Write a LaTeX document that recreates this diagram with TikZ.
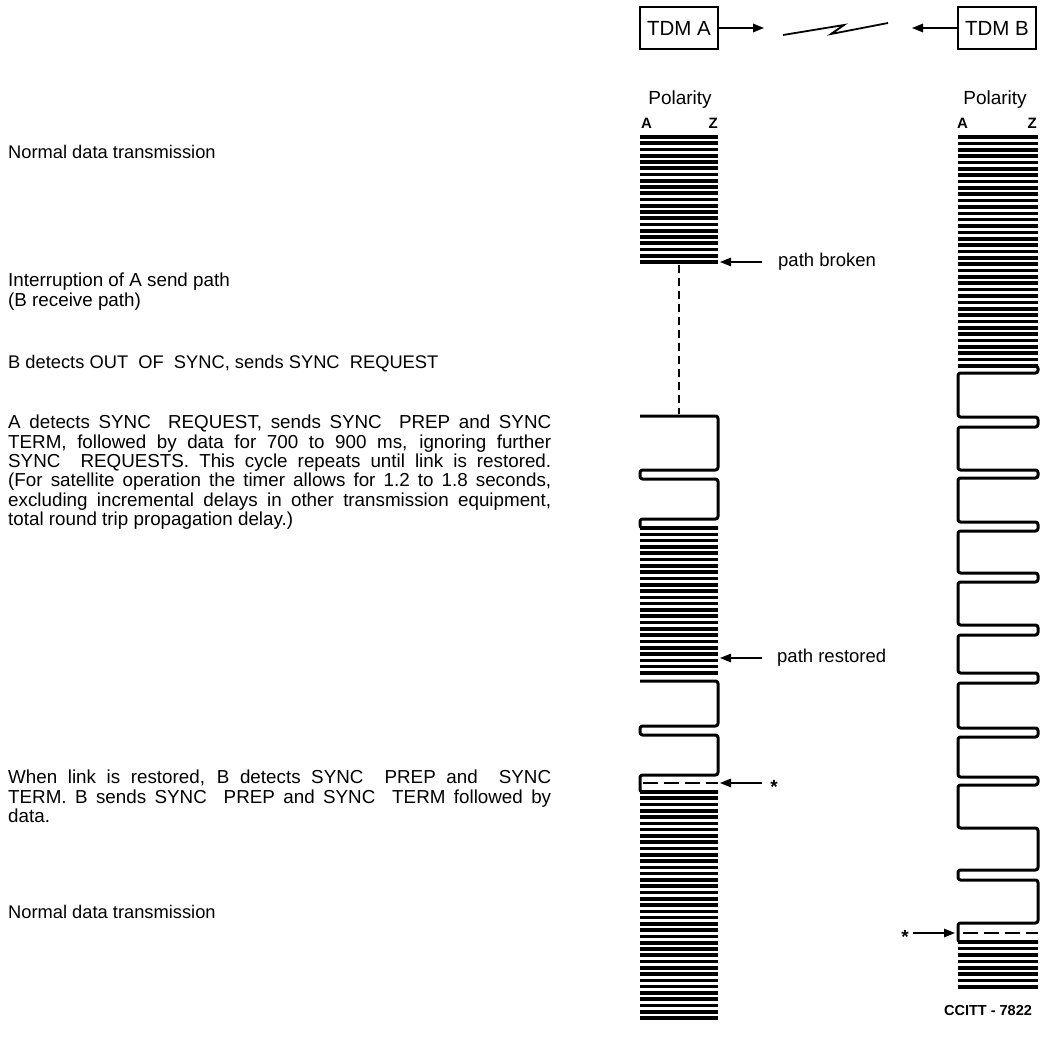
\documentclass[tikz,border=0pt]{standalone}
\usepackage{fontspec}
\setmainfont{Liberation Sans}
\usetikzlibrary{arrows.meta}

% one justified line of a given width
\newcommand\jline[1]{\makebox[543pt][s]{#1}}

\begin{document}
\begin{tikzpicture}[x=1pt,y=-1pt,
  txt/.style={anchor=west, inner sep=0pt, font=\fontsize{18.3}{19.3}\selectfont},
  para/.style={anchor=north west, inner sep=0pt, align=left, font=\fontsize{18.8}{19.3}\selectfont},
  lbl/.style={anchor=west, inner sep=0pt, font=\fontsize{18.5}{19}\selectfont},
  pol/.style={inner sep=0pt, font=\fontsize{19}{19}\selectfont},
  pole/.style={inner sep=0pt, font=\bfseries\fontsize{15}{15}\selectfont},
  tdm/.style={draw, line width=2.4pt, minimum width=78pt, minimum height=42pt, inner sep=0pt, font=\fontsize{20.5}{20.5}\selectfont},
  wave/.style={line width=3pt, rounded corners=2.5pt, line join=round},
  bits/.style={line width=3.6pt},
  gap/.style={line width=1.5pt, dash pattern=on 8pt off 5pt},
  sep/.style={line width=2.8pt, dash pattern=on 15pt off 6pt},
  arr/.style={line width=1.5pt, -{Triangle[length=11pt,width=8.5pt]}},
]
\useasboundingbox (0,0) rectangle (1044,1051);

% ---- terminals and link ----
\node[tdm] (tdmA) at (679,28) {TDM A};
\node[tdm] (tdmB) at (997,28) {TDM B};
\coordinate (aOut) at (764,28);
\coordinate (bOut) at (912,28);
\draw[arr] (tdmA.east) -- (aOut);
\draw[arr] (tdmB.west) -- (bOut);
\coordinate (z1) at (783,35);
\coordinate (z2) at (844,25);
\coordinate (z3) at (831,34);
\coordinate (z4) at (888,23);
\draw[line width=1.8pt, line join=miter] (z1) -- (z2) -- (z3) -- (z4);

% ---- column headings ----
\node[pol] (polA) at (680,100) {Polarity};
\node[pole, anchor=west] (pAa) at (641,123) {A};
\node[pole, anchor=east] (pAz) at (718,123) {Z};
\node[pol] (polB) at (995,100) {Polarity};
\node[pole, anchor=west] (pBa) at (957,123) {A};
\node[pole, anchor=east] (pBz) at (1037,123) {Z};

% ---- data bursts (fast alternation) ----
\foreach \x/\w/\y/\n/\p in {640/78/137/20/6.25, 958/80/137/36/6.36, 640/78/528/23/6.3, 640/78/792/36/6.28, 958/80/942/7/6.43}{
  \foreach \k in {0,...,\n}
    \draw[bits] (\x,{\y+\k*\p}) -- ({\x+\w},{\y+\k*\p});
}

% ---- TDM A line ----
\draw[gap] (679,265) -- (679,414);
\draw[wave] (640,416) -- (718,416) -- (718,470) -- (640,470) -- (640,479) -- (718,479)
  -- (718,519) -- (640,519) -- (640,528) -- (718,528);
\draw[wave] (640,681) -- (718,681) -- (718,726) -- (640,726) -- (640,735) -- (718,735)
  -- (718,775) -- (640,775) -- (640,792) -- (718,792);
\draw[sep] (643,783) -- (718,783);

% ---- TDM B line ----
\draw[wave] (958,366) -- (1038,366) -- (1038,373) -- (958,373)
  -- (958,417) -- (1038,417) -- (1038,427) -- (958,427)
  -- (958,470) -- (1038,470) -- (1038,478) -- (958,478)
  -- (958,522) -- (1038,522) -- (1038,531) -- (958,531)
  -- (958,573) -- (1038,573) -- (1038,582) -- (958,582)
  -- (958,625) -- (1038,625) -- (1038,635) -- (958,635)
  -- (958,673) -- (1038,673) -- (1038,683) -- (958,683)
  -- (958,728) -- (1038,728) -- (1038,737) -- (958,737)
  -- (958,777) -- (1038,777) -- (1038,785) -- (958,785)
  -- (958,828) -- (1038,828) -- (1038,870) -- (958,870)
  -- (958,880) -- (1038,880) -- (1038,923) -- (958,923)
  -- (958,942) -- (1038,942);
\draw[sep] (963,933) -- (1038,933);

% ---- event markers ----
\node[lbl] (brk) at (778,262) {path broken};
\coordinate (brkTip) at (720,262);
\draw[arr, shorten <=16pt] (brk.west) -- (brkTip);

\node[lbl] (rst) at (777,658) {path restored};
\coordinate (rstTip) at (720,658);
\draw[arr, shorten <=15pt] (rst.west) -- (rstTip);

\node[inner sep=0pt, font=\bfseries\fontsize{19}{19}\selectfont] (stA) at (774,787) {*};
\coordinate (stATip) at (720,783);
\draw[arr] (762,783) -- (stATip);

\node[inner sep=0pt, font=\bfseries\fontsize{19}{19}\selectfont] (stB) at (905,937) {*};
\coordinate (stBTip) at (955,933);
\draw[arr] (913,933) -- (stBTip);

% ---- narrative ----
\node[txt] (t1) at (8,152) {Normal data transmission};
\node[para] (t2) at (8,273) {Interruption of A send path\\(B receive path)};
\node[txt] (t3) at (8,364) {B detects OUT\ \ OF\ \ SYNC, sends SYNC\ \ REQUEST};
\node[para] (t4) at (8,415) {%
  \jline{A detects SYNC\ \ REQUEST, sends SYNC\ \ PREP and SYNC}\\
  \jline{TERM, followed by data for 700 to 900 ms, ignoring further}\\
  \jline{SYNC\ \ REQUESTS. This cycle repeats until link is restored.}\\
  \jline{(For satellite operation the timer allows for 1.2 to 1.8 seconds,}\\
  \jline{excluding incremental delays in other transmission equipment,}\\
  total round trip propagation delay.)};
\node[para] (t5) at (8,770) {%
  \jline{When link is restored, B detects SYNC\ \ PREP and\ \ SYNC}\\
  \jline{TERM. B sends SYNC\ \ PREP and SYNC\ \ TERM followed by}\\
  data.};
\node[txt] (t6) at (8,912) {Normal data transmission};

\node[inner sep=0pt, font=\bfseries\fontsize{14.5}{14.5}\selectfont] (ref) at (988,1010) {CCITT - 7822};
\end{tikzpicture}
\end{document}
